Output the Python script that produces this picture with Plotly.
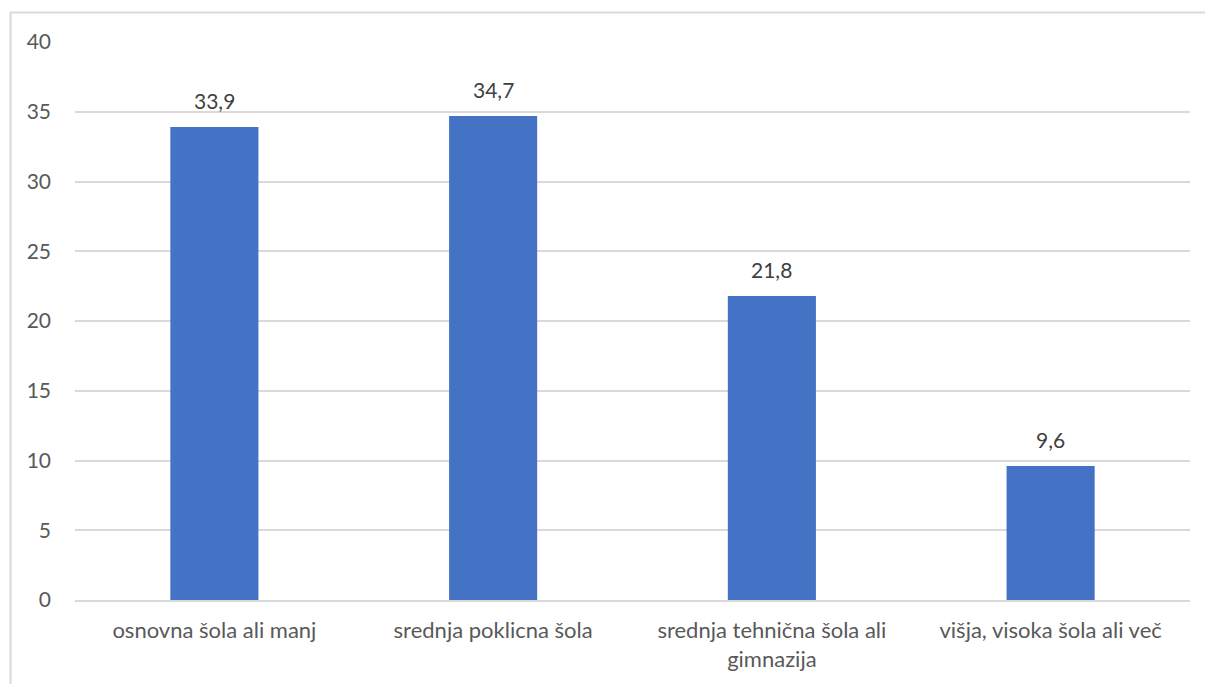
import plotly.graph_objects as go

# Education level categories and shares (%)
categories = [
    "osnovna šola ali manj",
    "srednja poklicna šola",
    "srednja tehnična šola ali<br>gimnazija",
    "višja, visoka šola ali več",
]
values = [33.9, 34.7, 21.8, 9.6]
y_ticks = [0, 5, 10, 15, 20, 25, 30, 35, 40]

FONT = "Lato, 'Open Sans', sans-serif"

fig = go.Figure(
    go.Bar(
        x=categories,
        y=values,
        marker=dict(color="#4472C4", line=dict(width=0)),
        cliponaxis=False,
        hoverinfo="skip",
    )
)

# value labels above each bar (decimal comma)
for cat, val in zip(categories, values):
    fig.add_annotation(
        x=cat,
        y=val,
        text=f"{val:.1f}".replace(".", ","),
        showarrow=False,
        yanchor="bottom",
        yshift=12,
        font=dict(family=FONT, size=21, color="#404040"),
    )

fig.update_layout(
    width=1205,
    height=684,
    margin=dict(l=75, r=15, t=42, b=84),
    paper_bgcolor="white",
    plot_bgcolor="white",
    bargap=0.684,
    showlegend=False,
    font=dict(family=FONT, size=21, color="#595959"),
    shapes=[
        # outer chart frame
        dict(
            type="rect",
            xref="paper",
            yref="paper",
            x0=-0.0578,
            x1=1.1,
            y0=-0.3,
            y1=1.0529,
            line=dict(color="#d9d9d9", width=2),
            fillcolor="rgba(0,0,0,0)",
            layer="below",
        )
    ],
)

fig.update_xaxes(
    showgrid=False,
    showline=True,
    linecolor="#d9d9d9",
    linewidth=2,
    ticks="",
    tickfont=dict(family=FONT, size=22, color="#595959"),
    ticklabelstandoff=10,
)
fig.update_yaxes(
    range=[0, 40],
    tickvals=y_ticks,
    showgrid=True,
    gridcolor="#d9d9d9",
    gridwidth=1.5,
    zeroline=False,
    showline=False,
    ticks="",
    tickfont=dict(family=FONT, size=21, color="#595959"),
    ticklabelstandoff=23,
)

fig.write_html("out.html")
